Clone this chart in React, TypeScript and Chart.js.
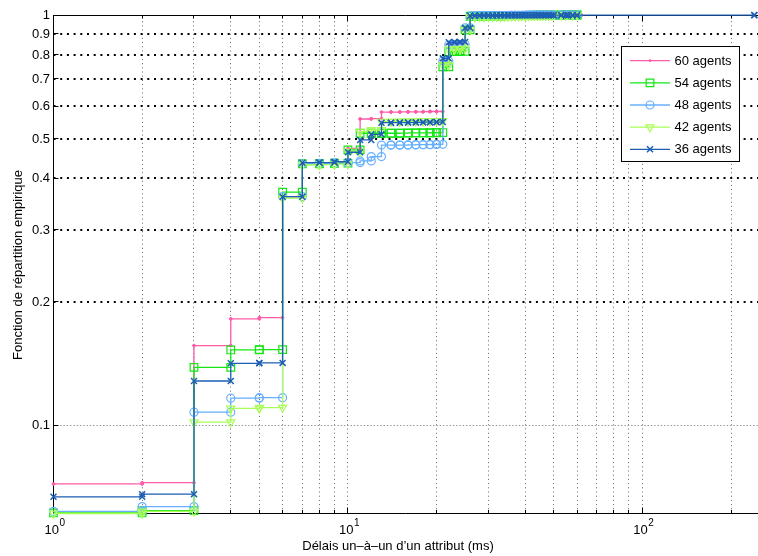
import React, { useEffect, useRef } from 'react';
import { Chart, registerables } from 'chart.js';

Chart.register(...registerables);

const FONT = '"Liberation Sans", Arial, Helvetica, sans-serif';

// ---------- data ----------
const delays = [
  1, 2, 3, 4, 5, 6, 7, 8, 9, 10, 11, 12, 13, 14, 15, 16, 17, 18, 19, 20, 21, 22, 23, 24, 25,
  26, 27, 28, 29, 30, 31, 32, 33, 34, 35, 36, 37, 38, 39, 40, 41, 42, 43, 44, 45, 46, 47, 48, 49, 50,
  53, 55, 56, 58, 60,
];

const cdf60 = [
  0.072, 0.0725, 0.1565, 0.1818, 0.183, 0.361, 0.435, 0.436, 0.4365, 0.473, 0.558, 0.559, 0.58, 0.58, 0.5805,
  0.581, 0.581, 0.5815, 0.582, 0.582, 0.775, 0.85, 0.852, 0.853, 0.93,
  0.994, 0.995, 0.995, 0.996, 0.996, 0.996, 0.997, 0.997, 0.997, 0.997, 0.998, 0.998, 0.998, 0.998, 0.998,
  0.998, 0.999, 0.999, 0.999, 0.999, 0.999, 0.999, 0.999, 0.999, 0.999, 0.999, 0.999, 0.999, 0.999, 0.999,
];
const extraDelays60 = [62];
const extraCdf60 = [1.0];

const cdf54 = [
  0.0612, 0.062, 0.1385, 0.1527, 0.153, 0.37, 0.434, 0.435, 0.4355, 0.469, 0.515, 0.515, 0.515, 0.515, 0.5155,
  0.516, 0.516, 0.516, 0.5165, 0.517, 0.748, 0.814, 0.815, 0.816, 0.92,
  0.993, 0.994, 0.994, 0.995, 0.995, 0.996, 0.996, 0.996, 0.997, 0.997, 0.997, 0.997, 0.998, 0.998, 0.998,
  0.998, 0.998, 0.999, 0.999, 0.999, 0.999, 0.999, 0.999, 0.999, 0.999, 1.0, 1.0, 1.0, 1.0, 1.0,
];

const cdf48 = [
  0.0617, 0.0634, 0.1077, 0.1165, 0.1168, 0.361, 0.434, 0.435, 0.436, 0.437, 0.441, 0.452, 0.482, 0.482, 0.482,
  0.4825, 0.483, 0.483, 0.4835, 0.484, 0.773, 0.845, 0.846, 0.848, 0.93,
  0.995, 0.995, 0.996, 0.996, 0.996, 0.997, 0.997, 0.997, 0.997, 0.998, 0.998, 0.998, 0.998, 0.998, 0.999,
  0.999, 0.999, 0.999, 0.999, 0.999, 0.999, 0.999, 0.999, 0.999, 0.999, 1.0, 1.0, 1.0, 1.0, 1.0,
];

const cdf42 = [
  0.061, 0.0617, 0.1018, 0.11, 0.1105, 0.358, 0.431, 0.432, 0.433, 0.465, 0.52, 0.525, 0.55, 0.55, 0.5505,
  0.551, 0.551, 0.5515, 0.552, 0.552, 0.755, 0.825, 0.826, 0.828, 0.92,
  0.988, 0.989, 0.989, 0.99, 0.99, 0.991, 0.991, 0.992, 0.992, 0.993, 0.993, 0.994, 0.994, 0.995, 0.995,
  0.996, 0.996, 0.997, 0.997, 0.997, 0.998, 0.998, 0.998, 0.999, 0.999, 0.999, 1.0, 1.0, 1.0, 1.0,
];

const cdf36 = [
  0.067, 0.068, 0.1283, 0.1417, 0.142, 0.3608, 0.4366, 0.437, 0.439, 0.463, 0.496, 0.512, 0.5465, 0.5465, 0.547,
  0.547, 0.5475, 0.548, 0.548, 0.5485, 0.784, 0.858, 0.859, 0.86, 0.93,
  0.996, 0.996, 0.997, 0.997, 0.997, 0.997, 0.998, 0.998, 0.998, 0.998, 0.998, 0.998, 0.999, 0.999, 0.999,
  0.999, 0.999, 0.999, 0.999, 0.999, 0.999, 0.999, 0.999, 0.999, 0.999, 0.999, 0.999, 0.999, 0.999, 0.999,
];
const extraDelays36 = [240];
const extraCdf36 = [1.0];

const seriesLabels = ['60 agents', '54 agents', '48 agents', '42 agents', '36 agents'];

const yTicks = [0.1, 0.2, 0.3, 0.4, 0.5, 0.6, 0.7, 0.8, 0.9, 1];
const yTickLabels = ['0.1', '0.2', '0.3', '0.4', '0.5', '0.6', '0.7', '0.8', '0.9', '1'];
const xMajorTicks = [1, 10, 100];
const xMajorExponents = ['0', '1', '2'];
const xMinorTicks = [2, 3, 4, 5, 6, 7, 8, 9, 20, 30, 40, 50, 60, 70, 80, 90, 200];

const xTitle = 'Délais un–à–un d’un attribut (ms)';
const yTitle = 'Fonction de répartition empirique';

// ---------- styles / layout ----------
const AREA = { left: 53.5, right: 758, top: 15, bottom: 513.5 };

type MarkerKind = 'dot' | 'square' | 'circle' | 'triangle' | 'cross';
const seriesStyles: { color: string; marker: MarkerKind }[] = [
  { color: '#ff5ca8', marker: 'dot' },
  { color: '#14e614', marker: 'square' },
  { color: '#66b0ff', marker: 'circle' },
  { color: '#a8ff55', marker: 'triangle' },
  { color: '#1c5fb4', marker: 'cross' },
];

function stairPoints(xs: number[], ys: number[]) {
  const pts: { x: number; y: number }[] = [];
  for (let i = 0; i < xs.length; i++) {
    if (i > 0) pts.push({ x: xs[i], y: ys[i - 1] });
    pts.push({ x: xs[i], y: ys[i] });
  }
  return pts;
}

function pointOpts(kind: MarkerKind, color: string) {
  switch (kind) {
    case 'dot':
      return { pointStyle: 'circle', pointRadius: 1.4, pointBackgroundColor: color, pointBorderColor: color, pointBorderWidth: 1 };
    case 'square':
      return { pointStyle: 'rect', pointRadius: 5.4, pointBackgroundColor: 'rgba(0,0,0,0)', pointBorderColor: color, pointBorderWidth: 1.2 };
    case 'circle':
      return { pointStyle: 'circle', pointRadius: 4, pointBackgroundColor: 'rgba(0,0,0,0)', pointBorderColor: color, pointBorderWidth: 1.2 };
    case 'triangle':
      return { pointStyle: 'triangle', pointRadius: 4.6, pointRotation: 180, pointBackgroundColor: 'rgba(0,0,0,0)', pointBorderColor: color, pointBorderWidth: 1.2 };
    default:
      return { pointStyle: 'crossRot', pointRadius: 4.2, pointBackgroundColor: color, pointBorderColor: color, pointBorderWidth: 1.5 };
  }
}

function drawMarker(ctx: CanvasRenderingContext2D, kind: MarkerKind, x: number, y: number, color: string) {
  ctx.save();
  ctx.strokeStyle = color;
  ctx.fillStyle = color;
  ctx.lineWidth = 1.2;
  ctx.beginPath();
  if (kind === 'dot') {
    ctx.arc(x, y, 1.4, 0, Math.PI * 2);
    ctx.fill();
  } else if (kind === 'square') {
    ctx.rect(x - 3.8, y - 3.8, 7.6, 7.6);
    ctx.stroke();
  } else if (kind === 'circle') {
    ctx.arc(x, y, 4, 0, Math.PI * 2);
    ctx.stroke();
  } else if (kind === 'triangle') {
    const r = 4.6;
    ctx.moveTo(x - r * 0.866, y - r * 0.5);
    ctx.lineTo(x + r * 0.866, y - r * 0.5);
    ctx.lineTo(x, y + r);
    ctx.closePath();
    ctx.stroke();
  } else {
    ctx.lineWidth = 1.5;
    const h = 3;
    ctx.moveTo(x - h, y - h);
    ctx.lineTo(x + h, y + h);
    ctx.moveTo(x - h, y + h);
    ctx.lineTo(x + h, y - h);
    ctx.stroke();
  }
  ctx.restore();
}

const matlabPlugin = {
  id: 'matlabAxes',
  beforeDatasetsDraw(chart: any) {
    const { ctx, chartArea: a } = chart;
    const xs = chart.scales.x;
    const ys = chart.scales.y;
    ctx.save();
    // vertical grid (all x ticks)
    ctx.strokeStyle = '#666';
    ctx.lineWidth = 1;
    ctx.setLineDash([1, 3.2]);
    for (const v of [...xMinorTicks, ...xMajorTicks]) {
      if (v <= xs.min || v >= xs.max) continue;
      const px = Math.round(xs.getPixelForValue(v) - 0.5) + 0.5;
      ctx.beginPath();
      ctx.moveTo(px, a.bottom);
      ctx.lineTo(px, a.top);
      ctx.stroke();
    }
    // horizontal grid
    for (const v of yTicks) {
      if (v >= ys.max || v <= ys.min) continue;
      const py = ys.getPixelForValue(v);
      ctx.beginPath();
      if (v === 0.1) {
        ctx.strokeStyle = '#9a9a9a';
        ctx.lineWidth = 1;
        ctx.setLineDash([1.5, 1.8]);
        const y0 = Math.round(py - 0.5) + 0.5;
        ctx.moveTo(a.left, y0);
        ctx.lineTo(a.right, y0);
      } else {
        ctx.strokeStyle = '#000';
        ctx.lineWidth = 2;
        ctx.setLineDash([2, 4.7]);
        const y0 = Math.round(py);
        ctx.moveTo(a.left, y0);
        ctx.lineTo(a.right, y0);
      }
      ctx.stroke();
    }
    ctx.setLineDash([]);

    // axes box (left, bottom, top)
    ctx.strokeStyle = '#000';
    ctx.lineWidth = 1;
    ctx.beginPath();
    ctx.moveTo(a.left, a.top + 0.5);
    ctx.lineTo(a.right, a.top + 0.5);
    ctx.moveTo(a.left, a.top);
    ctx.lineTo(a.left, a.bottom);
    ctx.moveTo(a.left, a.bottom);
    ctx.lineTo(a.right, a.bottom);
    ctx.stroke();

    // x ticks (bottom + top)
    ctx.beginPath();
    for (const v of xMajorTicks) {
      const px = Math.round(xs.getPixelForValue(v) - 0.5) + 0.5;
      ctx.moveTo(px, a.bottom);
      ctx.lineTo(px, a.bottom - 6);
      ctx.moveTo(px, a.top);
      ctx.lineTo(px, a.top + 6);
    }
    for (const v of xMinorTicks) {
      const px = Math.round(xs.getPixelForValue(v) - 0.5) + 0.5;
      ctx.moveTo(px, a.bottom);
      ctx.lineTo(px, a.bottom - 3.5);
      ctx.moveTo(px, a.top);
      ctx.lineTo(px, a.top + 3.5);
    }
    // y ticks (left)
    for (const v of yTicks) {
      const py = Math.round(ys.getPixelForValue(v) - 0.5) + 0.5;
      ctx.moveTo(a.left, py);
      ctx.lineTo(a.left + 5, py);
    }
    ctx.stroke();

    // y tick labels
    ctx.fillStyle = '#000';
    ctx.font = `13px ${FONT}`;
    ctx.textAlign = 'right';
    ctx.textBaseline = 'middle';
    yTicks.forEach((v, i) => {
      ctx.fillText(yTickLabels[i], a.left - 3.5, ys.getPixelForValue(v) + 0.5);
    });

    // x tick labels 10^n
    xMajorTicks.forEach((v, i) => {
      const px = xs.getPixelForValue(v);
      ctx.font = `13px ${FONT}`;
      const wBase = ctx.measureText('10').width;
      ctx.font = `10px ${FONT}`;
      const wExp = ctx.measureText(xMajorExponents[i]).width;
      const left = px + 1 - (wBase + wExp) / 2;
      ctx.textAlign = 'left';
      ctx.textBaseline = 'alphabetic';
      ctx.font = `13px ${FONT}`;
      ctx.fillText('10', left, 534);
      ctx.font = `10px ${FONT}`;
      ctx.fillText(xMajorExponents[i], left + wBase + 0.5, 525.5);
    });

    // axis titles
    ctx.font = `13px ${FONT}`;
    ctx.textAlign = 'center';
    ctx.textBaseline = 'middle';
    ctx.fillText(xTitle, 398, 546.5);
    ctx.save();
    ctx.translate(18, 265);
    ctx.rotate(-Math.PI / 2);
    ctx.fillText(yTitle, 0, 0);
    ctx.restore();
    ctx.restore();
  },
  afterDatasetsDraw(chart: any) {
    const { ctx } = chart;
    ctx.save();
    // legend box
    const bx = 621.5, by = 46.5, bw = 118, bh = 115;
    ctx.fillStyle = '#fff';
    ctx.fillRect(bx, by, bw, bh);
    ctx.strokeStyle = '#000';
    ctx.lineWidth = 1;
    ctx.strokeRect(bx, by, bw, bh);
    seriesLabels.forEach((label, i) => {
      const yy = 60.7 + i * 22.15;
      const st = seriesStyles[i];
      ctx.strokeStyle = st.color;
      ctx.lineWidth = 1.3;
      ctx.beginPath();
      ctx.moveTo(630, yy);
      ctx.lineTo(670, yy);
      ctx.stroke();
      drawMarker(ctx, st.marker, 650, yy, st.color);
      ctx.fillStyle = '#000';
      ctx.font = `13px ${FONT}`;
      ctx.textAlign = 'left';
      ctx.textBaseline = 'middle';
      ctx.fillText(label, 674.5, yy + 0.5);
    });
    ctx.restore();
  },
};

export default function App() {
  const ref = useRef<HTMLCanvasElement>(null);
  useEffect(() => {
    const canvas = ref.current;
    if (!canvas) return;
    const seriesData = [
      stairPoints([...delays, ...extraDelays60], [...cdf60, ...extraCdf60]),
      stairPoints(delays, cdf54),
      stairPoints(delays, cdf48),
      stairPoints(delays, cdf42),
      stairPoints([...delays, ...extraDelays36], [...cdf36, ...extraCdf36]),
    ];
    const datasets = seriesData.map((data, i) => ({
      label: seriesLabels[i],
      data,
      showLine: true,
      borderColor: seriesStyles[i].color,
      borderWidth: 1.3,
      tension: 0,
      clip: false as const,
      order: 5 - i,
      ...pointOpts(seriesStyles[i].marker, seriesStyles[i].color),
    }));
    const padding = { top: AREA.top, left: 0, right: 0, bottom: 0 };
    const chart = new Chart(canvas, {
      type: 'scatter',
      data: { datasets: datasets as any },
      options: {
        responsive: false,
        animation: false,
        events: [],
        layout: { autoPadding: false, padding },
        plugins: { legend: { display: false }, tooltip: { enabled: false }, title: { display: false } },
        scales: {
          x: {
            type: 'logarithmic',
            min: 1,
            max: 247,
            grid: { display: false },
            border: { display: false },
            ticks: { display: false },
            afterFit: (s: any) => { s.height = 556 - AREA.bottom; },
          },
          y: {
            type: 'logarithmic',
            min: 0.061,
            max: 1,
            grid: { display: false },
            border: { display: false },
            ticks: { display: false },
            afterFit: (s: any) => { s.width = AREA.left; },
          },
        },
      } as any,
      plugins: [matlabPlugin],
    });
    // make sure the plot area sits exactly where the reference has it
    const ca = chart.chartArea;
    const dR = AREA.right - ca.right;
    const dT = ca.top - AREA.top;
    const dB = AREA.bottom - ca.bottom;
    const dL = ca.left - AREA.left;
    if (Math.abs(dR) > 0.2 || Math.abs(dT) > 0.2 || Math.abs(dB) > 0.2 || Math.abs(dL) > 0.2) {
      const p: any = (chart.options as any).layout.padding;
      p.right = (p.right || 0) - dR;
      p.top = (p.top || 0) - dT;
      p.bottom = (p.bottom || 0) - dB;
      p.left = (p.left || 0) - dL;
      chart.update();
    }
    return () => chart.destroy();
  }, []);
  return (
    <div style={{ position: 'absolute', left: 0, top: 0, width: 758, height: 556, background: '#fff' }}>
      <canvas ref={ref} width={758} height={556} style={{ display: 'block', width: 758, height: 556 }} />
    </div>
  );
}
